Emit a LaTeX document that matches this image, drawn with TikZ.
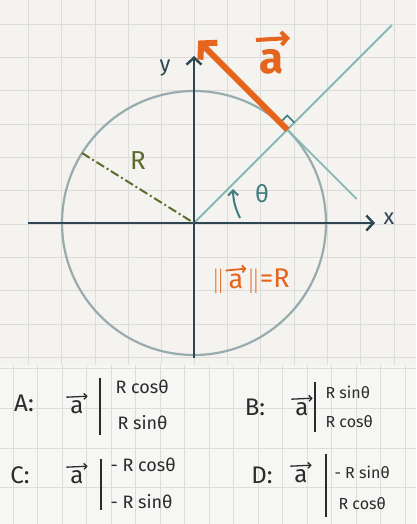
\documentclass[tikz,border=0pt]{standalone}
\usepackage{fontspec}
\setmainfont{Fira Sans}
\usetikzlibrary{calc,arrows.meta}
\definecolor{bg}{HTML}{F4F3EF}
\definecolor{bglow}{HTML}{F6F6F4}
\definecolor{gridc}{HTML}{DCDCD8}
\definecolor{axisc}{HTML}{2E4652}
\definecolor{circc}{HTML}{98ABAE}
\definecolor{rayc}{HTML}{86B8B6}
\definecolor{orangec}{HTML}{E5641E}
\definecolor{greenc}{HTML}{5C6C2C}
\definecolor{thetac}{HTML}{3E7C80}
\definecolor{inkc}{HTML}{2B2B2B}
\tikzset{
  gridline/.style={gridc, line width=0.8},
  axisline/.style={axisc, line width=2.4, -{Straight Barb[length=7pt,width=15pt,line width=2.4pt]}},
  rayline/.style={rayc, line width=1.8},
  optlabel/.style={text=inkc, font=\fontsize{24}{26}\selectfont},
  veclabel/.style={text=inkc, font=\fontsize{24}{26}\selectfont, inner sep=1pt},
  vecarrow/.style={inkc, line width=1.3, -{Straight Barb[length=3pt,width=6pt,line width=1.3pt]}},
  entry/.style={text=inkc, anchor=west, font=\fontsize{18}{20}\selectfont},
  smallentry/.style={text=inkc, anchor=west, font=\fontsize{16}{18}\selectfont},
  barline/.style={inkc, line width=1.8},
  normtext/.style={text=orangec, font=\fontsize{27}{29}\selectfont, inner sep=1.8pt}
}
\begin{document}
\begin{tikzpicture}[x=1pt,y=-1pt]
\fill[bg] (0,0) rectangle (416,524);
\useasboundingbox (0,0) rectangle (416,524);
% upper grid
\foreach \x in {28.3,61.6,95,128.3,161.6,194,227.3,260.6,294,327.3,360.6,394}
  \draw[gridline] (\x,0) -- (\x,365);
\foreach \y in {24,57.3,90.6,124,157.3,190.6,224,257.3,290.6,324,357.3}
  \draw[gridline] (0,\y) -- (416,\y);
% lower grid
\fill[bglow] (0,365) rectangle (416,524);
\foreach \x in {13,37.5,62,86.5,111,135.5,160,184.5,209,233.5,258,282.5,307,331.5,356,380.5,405}
  \draw[gridline] (\x,365) -- (\x,524);
\foreach \y in {368,408,448,487}
  \draw[gridline] (0,\y) -- (416,\y);

% geometry
\coordinate (O) at (194,223);
\coordinate (P) at ($(O)+(-45:132)$);
\coordinate (rayend) at ($(O)+(-45:280)$);
\coordinate (tanend) at ($(P)+(45:98)$);
\coordinate (tip) at ($(P)+(-135:126)$);
\coordinate (Rend) at ($(O)+(-148:132)$);
\coordinate (xs) at (28,223);
\coordinate (xe) at (375,223);
\coordinate (ys) at (194,358);
\coordinate (ye) at (194,56);

\draw[circc, line width=2.2] (O) circle[radius=132];
\draw[rayline] (O) -- (rayend);
\draw[rayline] (P) -- (tanend);
\draw[axisline] (xs) -- (xe);
\draw[axisline] (ys) -- (ye);
\draw[greenc, line width=2, dash pattern=on 9pt off 3pt on 2pt off 3pt] (Rend) -- (O);
\draw[thetac, line width=1.6] ($(P)+(-135:10)$) -- ($(P)+(-135:10)+(-45:10)$) -- ($(P)+(-45:10)$);
\draw[orangec, line width=6, -{Straight Barb[length=11pt,width=24pt,line width=6pt]}] (P) -- (tip);

% theta arrow
\coordinate (th1) at (240,218);
\coordinate (th2) at (233,189);
\draw[thetac, line width=2, -{Straight Barb[length=5pt,width=10pt,line width=2pt]}] (th1) to[bend left=12] (th2);

% labels
\node[text=axisc, font=\fontsize{22}{24}\selectfont] (ylab) at (165,68) {y};
\node[text=axisc, font=\fontsize{22}{24}\selectfont] (xlab) at (389,219) {x};
\node[text=greenc, font=\fontsize{26}{28}\selectfont] (Rlab) at (138,161) {R};
\node[text=thetac, font=\fontsize{24}{26}\selectfont] (thlab) at (262,194) {θ};
\node[text=orangec, font=\fontsize{44}{44}\selectfont\bfseries] (alab) at (272,62) {a};
\coordinate (aa1) at (256,40);
\coordinate (aa2) at (290,38);
\draw[orangec, line width=4, -{Straight Barb[length=6pt,width=13pt,line width=4pt]}] (aa1) -- (aa2);
% norm label
\node[normtext] (na) at (236,281) {a};
\node[normtext, anchor=east] (nl) at (na.west) {\(\|\)};
\node[normtext, anchor=west] (nr) at (na.east) {\(\|\)=R};
\draw[orangec, line width=1.8, -{Straight Barb[length=3pt,width=7pt,line width=1.8pt]}] ([xshift=-1pt,yshift=1pt]na.north west) -- ([xshift=1pt,yshift=3pt]na.north east);

% options
\node[optlabel] (A) at (24,403) {A:};
\node[veclabel] (Av) at (77,407) {a};
\draw[vecarrow] ([xshift=-3pt,yshift=2pt]Av.north west) -- ([xshift=3pt,yshift=3pt]Av.north east);
\coordinate (Ab1) at (100,378); \coordinate (Ab2) at (100,435);
\draw[barline] (Ab1) -- (Ab2);
\node[entry] (A1) at (112,387) {R cosθ};
\node[entry] (A2) at (114,423) {R sinθ};

\node[optlabel] (B) at (255,407) {B:};
\node[veclabel] (Bv) at (302,409) {a};
\draw[vecarrow] ([xshift=-3pt,yshift=2pt]Bv.north west) -- ([xshift=3pt,yshift=3pt]Bv.north east);
\coordinate (Bb1) at (315,382); \coordinate (Bb2) at (315,432);
\draw[barline] (Bb1) -- (Bb2);
\node[smallentry] (B1) at (322,392) {R sinθ};
\node[smallentry] (B2) at (322,422) {R cosθ};

\node[optlabel] (C) at (20,475) {C:};
\node[veclabel] (Cv) at (77,477) {a};
\draw[vecarrow] ([xshift=-3pt,yshift=2pt]Cv.north west) -- ([xshift=3pt,yshift=3pt]Cv.north east);
\coordinate (Cb1) at (101,459); \coordinate (Cb2) at (101,510);
\draw[barline] (Cb1) -- (Cb2);
\node[entry] (C1) at (107,465) {- R cosθ};
\node[entry] (C2) at (107,502) {- R sinθ};

\node[optlabel] (D) at (262,475) {D:};
\node[veclabel] (Dv) at (301,476) {a};
\draw[vecarrow] ([xshift=-3pt,yshift=2pt]Dv.north west) -- ([xshift=3pt,yshift=3pt]Dv.north east);
\coordinate (Db1) at (326,454); \coordinate (Db2) at (326,517);
\draw[barline] (Db1) -- (Db2);
\node[smallentry] (D1) at (331,472) {- R sinθ};
\node[smallentry] (D2) at (335,504) {R cosθ};
\end{tikzpicture}
\end{document}
